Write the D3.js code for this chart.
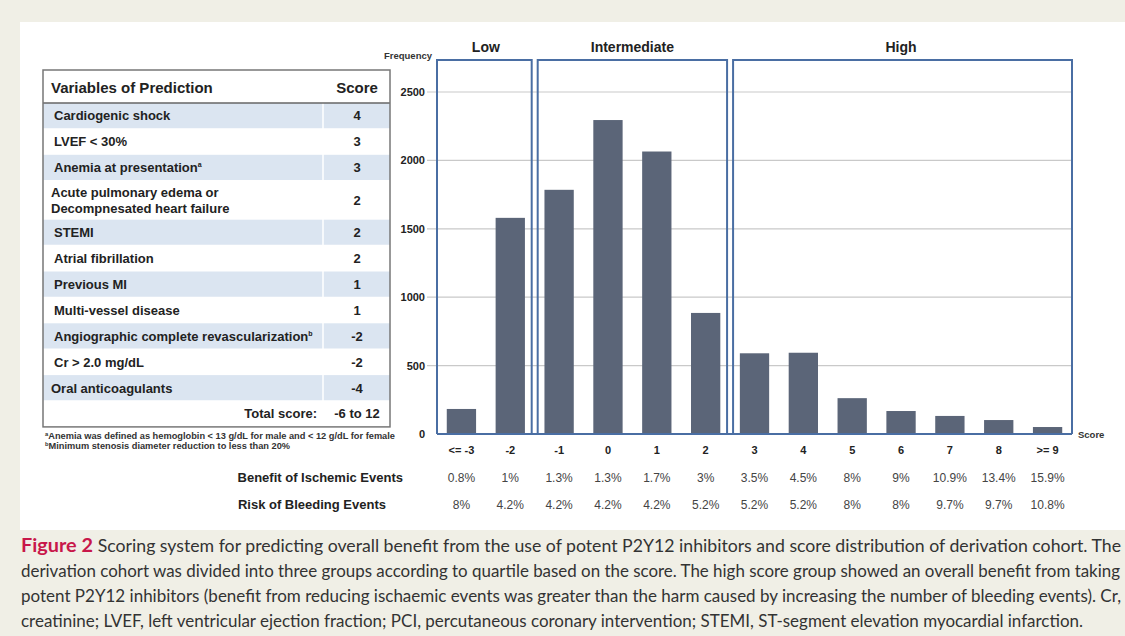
<!DOCTYPE html>
<html>
<head>
<meta charset="utf-8">
<script src="https://cdn.jsdelivr.net/npm/d3@7"></script>
<style>
  body { margin: 0; background: #f0efe6; }
  svg { display: block; }
</style>
</head>
<body>
<div id="chart"></div>
<script>
// ---- data ----
const categories = ["<= -3", "-2", "-1", "0", "1", "2", "3", "4", "5", "6", "7", "8", ">= 9"];
const frequency = [183, 1580, 1785, 2295, 2065, 885, 590, 594, 262, 168, 132, 102, 51];
const benefit = ["0.8%", "1%", "1.3%", "1.3%", "1.7%", "3%", "3.5%", "4.5%", "8%", "9%", "10.9%", "13.4%", "15.9%"];
const risk = ["8%", "4.2%", "4.2%", "4.2%", "4.2%", "5.2%", "5.2%", "5.2%", "8%", "8%", "9.7%", "9.7%", "10.8%"];
const groupNames = ["Low", "Intermediate", "High"];
const groupFirst = ["<= -3", "-1", "3"];
const groupLast = ["-2", "2", ">= 9"];
const yTicks = [0, 500, 1000, 1500, 2000, 2500];

const variables = ["Cardiogenic shock", "LVEF < 30%", "Anemia at presentation",
  "Acute pulmonary edema or|Decompnesated heart failure", "STEMI", "Atrial fibrillation",
  "Previous MI", "Multi-vessel disease", "Angiographic complete revascularization",
  "Cr > 2.0 mg/dL", "Oral anticoagulants"];
const varMarks = ["", "", "a", "", "", "", "", "", "b", "", ""];
const scores = ["4", "3", "3", "2", "2", "2", "1", "1", "-2", "-2", "-4"];
const footnotes = ["Anemia was defined as hemoglobin < 13 g/dL for male and < 12 g/dL for female",
  "Minimum stenosis diameter reduction to less than 20%"];
const footMarks = ["a", "b"];

const captionLines = [
  "Scoring system for predicting overall benefit from the use of potent P2Y12 inhibitors and score distribution of derivation cohort. The",
  "derivation cohort was divided into three groups according to quartile based on the score. The high score group showed an overall benefit from taking",
  "potent P2Y12 inhibitors (benefit from reducing ischaemic events was greater than the harm caused by increasing the number of bleeding events). Cr,",
  "creatinine; LVEF, left ventricular ejection fraction; PCI, percutaneous coronary intervention; STEMI, ST-segment elevation myocardial infarction."
];

// ---- layout constants ----
const W = 1125, H = 636;
const C = {
  bar: '#5b6578',
  box: '#4a6ea3',
  grid: '#c9c9c9',
  shade: '#dbe5f1',
  text: '#222',
  font: '"Liberation Sans", Arial, sans-serif'
};

const svg = d3.select('#chart').append('svg')
  .attr('width', W).attr('height', H)
  .style('font-family', C.font);

svg.append('rect').attr('width', W).attr('height', H).attr('fill', '#f0efe6');
svg.append('rect').attr('x', 20).attr('y', 22).attr('width', W).attr('height', 508).attr('fill', '#fff');

//------------------------------------------------------------
// Table on the left
//------------------------------------------------------------
const tbl = {left: 43, right: 390, top: 70, headBottom: 103, split: 323, rowH: 25.9, tallH: 39};
const table = svg.append('g');

// row boundaries
let rowY = [tbl.headBottom];
variables.forEach(v => rowY.push(rowY[rowY.length - 1] + (v.includes('|') ? tbl.tallH : tbl.rowH)));
const totalTop = rowY[rowY.length - 1];
const tableBottom = totalTop + tbl.rowH;

variables.forEach((v, i) => {
  const y0 = rowY[i], y1 = rowY[i + 1];
  if (i % 2 === 0) {
    table.append('rect').attr('x', tbl.left).attr('y', y0)
      .attr('width', tbl.right - tbl.left).attr('height', y1 - y0).attr('fill', C.shade);
  }
  table.append('line').attr('x1', tbl.left).attr('x2', tbl.right).attr('y1', y1).attr('y2', y1)
    .attr('stroke', '#fff').attr('stroke-width', 1.5);

  const lines = v.split('|');
  const lx = lines.length > 1 || i === variables.length - 1 ? 51 : 54;
  const cy = (y0 + y1) / 2;
  lines.forEach((ln, k) => {
    const t = table.append('text').attr('x', lx)
      .attr('y', cy + 4.5 + (k - (lines.length - 1) / 2) * 16)
      .attr('font-size', 13).attr('font-weight', 'bold').attr('fill', C.text)
      .text(ln);
    if (varMarks[i] && k === lines.length - 1) {
      t.append('tspan').attr('font-size', 7).attr('dy', -5).text(varMarks[i]);
    }
  });
  table.append('text').attr('x', 357).attr('y', cy + 4.5).attr('text-anchor', 'middle')
    .attr('font-size', 13).attr('font-weight', 'bold').attr('fill', C.text).text(scores[i]);
});

// score column divider
table.append('line').attr('x1', tbl.split).attr('x2', tbl.split)
  .attr('y1', tbl.headBottom).attr('y2', totalTop).attr('stroke', '#fff').attr('stroke-width', 1.5);

// header
table.append('text').attr('x', 51).attr('y', 93).attr('font-size', 15).attr('font-weight', 'bold')
  .attr('fill', C.text).text('Variables of Prediction');
table.append('text').attr('x', 357).attr('y', 93).attr('text-anchor', 'middle').attr('font-size', 15)
  .attr('font-weight', 'bold').attr('fill', C.text).text('Score');
table.append('line').attr('x1', tbl.left).attr('x2', tbl.right).attr('y1', tbl.headBottom).attr('y2', tbl.headBottom)
  .attr('stroke', '#666').attr('stroke-width', 1.5);

// total row
table.append('text').attr('x', 317).attr('y', totalTop + 17).attr('text-anchor', 'end')
  .attr('font-size', 13).attr('font-weight', 'bold').attr('fill', C.text).text('Total score:');
table.append('text').attr('x', 357).attr('y', totalTop + 17).attr('text-anchor', 'middle')
  .attr('font-size', 13).attr('font-weight', 'bold').attr('fill', C.text).text('-6 to 12');

// outline
table.append('rect').attr('x', tbl.left).attr('y', tbl.top)
  .attr('width', tbl.right - tbl.left).attr('height', tableBottom - tbl.top)
  .attr('fill', 'none').attr('stroke', '#777').attr('stroke-width', 1.5);

const footEnds = [395, 290];
footnotes.forEach((f, i) => {
  const t = table.append('text').attr('x', 45).attr('y', tableBottom + 12 + i * 10.5)
    .attr('font-size', 8.8).attr('font-weight', 'bold').attr('fill', '#333')
    .attr('textLength', footEnds[i] - 45).attr('lengthAdjust', 'spacingAndGlyphs');
  t.append('tspan').attr('font-size', 5.5).attr('dy', -3).text(footMarks[i]);
  t.append('tspan').attr('dy', 3).text(f);
});

//------------------------------------------------------------
// Histogram
//------------------------------------------------------------
const x = d3.scaleBand().domain(categories).range([437, 1072]).paddingInner(0.4).paddingOuter(0.2);
const y = d3.scaleLinear().domain([0, 2500]).range([434, 92]);
const chart = svg.append('g');

// gridlines and tick labels
chart.selectAll('.grid').data(yTicks.filter(d => d > 0)).join('line')
  .attr('x1', 427).attr('x2', 1072).attr('y1', d => y(d)).attr('y2', d => y(d))
  .attr('stroke', C.grid).attr('stroke-width', 1.2);
chart.selectAll('.ytick').data(yTicks).join('text')
  .attr('x', 425).attr('y', d => y(d) + 4).attr('text-anchor', 'end')
  .attr('font-size', 11).attr('font-weight', 'bold').attr('fill', C.text).text(d => d);

chart.append('text').attr('x', 432).attr('y', 59).attr('text-anchor', 'end')
  .attr('font-size', 9.5).attr('font-weight', 'bold').attr('fill', '#333').text('Frequency');

// bars
chart.selectAll('.bar').data(frequency).join('rect')
  .attr('x', (d, i) => x(categories[i])).attr('width', x.bandwidth())
  .attr('y', d => y(d)).attr('height', d => y(0) - y(d))
  .attr('fill', C.bar);

// group boxes
const step = x.step();
groupNames.forEach((g, i) => {
  const a = x(groupFirst[i]) - step * 0.2;
  const b = x(groupLast[i]) + x.bandwidth() + step * 0.2;
  const left = i === 0 ? a : a + 3;
  const right = i === groupNames.length - 1 ? b : b - 3;
  chart.append('path')
    .attr('d', `M${left},${y(0)}V60H${right}V${y(0)}`)
    .attr('fill', 'none').attr('stroke', C.box).attr('stroke-width', 2);
  chart.append('text').attr('x', (a + b) / 2).attr('y', 52).attr('text-anchor', 'middle')
    .attr('font-size', 14).attr('font-weight', 'bold').attr('fill', C.text).text(g);
});
chart.append('line').attr('x1', x.range()[0]).attr('x2', x.range()[1]).attr('y1', y(0)).attr('y2', y(0))
  .attr('stroke', C.box).attr('stroke-width', 2);

chart.append('text').attr('x', 1078).attr('y', 438)
  .attr('font-size', 9.5).attr('font-weight', 'bold').attr('fill', '#333').text('Score');

// category labels and rows beneath
const cx = c => x(c) + x.bandwidth() / 2;
chart.selectAll('.cat').data(categories).join('text')
  .attr('x', d => cx(d)).attr('y', 454).attr('text-anchor', 'middle')
  .attr('font-size', 11).attr('font-weight', 'bold').attr('fill', C.text).text(d => d);
chart.selectAll('.ben').data(benefit).join('text')
  .attr('x', (d, i) => cx(categories[i])).attr('y', 482).attr('text-anchor', 'middle')
  .attr('font-size', 12).attr('fill', '#444').text(d => d);
chart.selectAll('.risk').data(risk).join('text')
  .attr('x', (d, i) => cx(categories[i])).attr('y', 509).attr('text-anchor', 'middle')
  .attr('font-size', 12).attr('fill', '#444').text(d => d);
chart.append('text').attr('x', 403).attr('y', 482).attr('text-anchor', 'end')
  .attr('font-size', 13).attr('font-weight', 'bold').attr('fill', C.text).text('Benefit of Ischemic Events');
chart.append('text').attr('x', 386).attr('y', 509).attr('text-anchor', 'end')
  .attr('font-size', 13).attr('font-weight', 'bold').attr('fill', C.text).text('Risk of Bleeding Events');

//------------------------------------------------------------
// Caption
//------------------------------------------------------------
const capEnds = [1121, 1120, 1121, 1083];
captionLines.forEach((ln, i) => {
  const t = svg.append('text').attr('x', 21).attr('y', 552 + i * 25)
    .attr('font-family', 'Lato, "Open Sans", sans-serif').attr('font-size', 16.5).attr('fill', '#333')
    .attr('textLength', capEnds[i] - 21).attr('lengthAdjust', 'spacingAndGlyphs');
  if (i === 0) {
    t.append('tspan').attr('fill', '#c8174a').attr('font-weight', 'bold').attr('font-size', 18.5).text('Figure 2 ');
  }
  t.append('tspan').text(ln);
});
</script>
</body>
</html>
